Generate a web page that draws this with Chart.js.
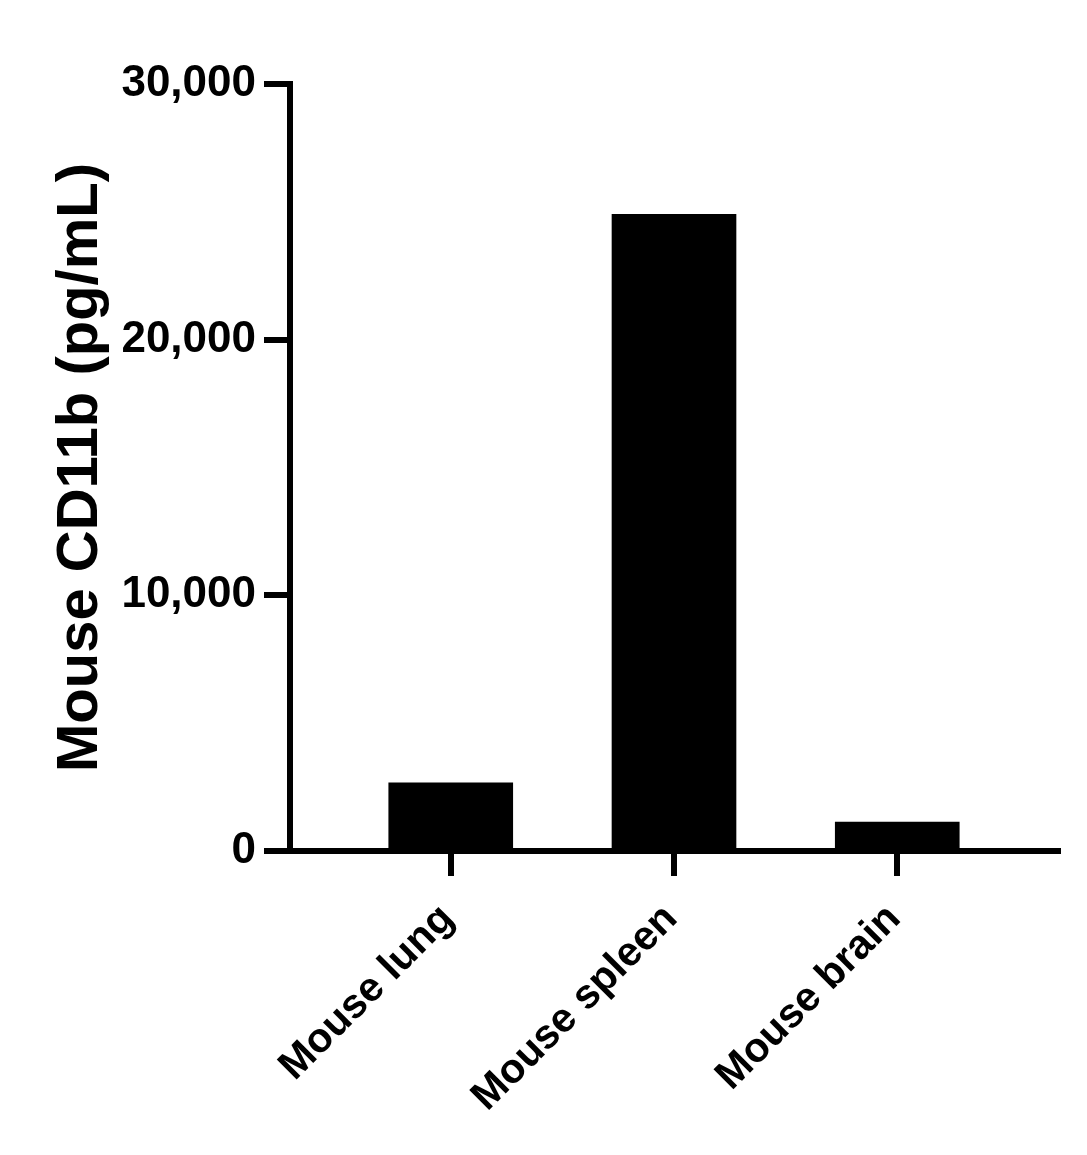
<!DOCTYPE html>
<html>
<head>
<meta charset="utf-8">
<script src="https://cdn.jsdelivr.net/npm/chart.js@4.4.1/dist/chart.umd.min.js"></script>
<style>
  html, body { margin: 0; padding: 0; background: #fff; }
  #wrap { width: 1087px; height: 1155px; position: relative; }
</style>
</head>
<body>
<div id="wrap"><canvas id="c"></canvas></div>
<script>
const categories = ["Mouse lung", "Mouse spleen", "Mouse brain"];
const values = [2670, 24900, 1135];
const yTicks = [0, 10000, 20000, 30000];
const yTitle = "Mouse CD11b (pg/mL)";

const FONT = "'Liberation Sans', Arial, Helvetica, sans-serif";

new Chart(document.getElementById('c'), {
  type: 'bar',
  data: {
    datasets: [{
      data: categories.map((c, i) => ({ x: i, y: values[i] })),
      backgroundColor: '#000',
      borderWidth: 0,
      barThickness: 124
    }]
  },
  options: {
    responsive: true,
    maintainAspectRatio: false,
    animation: false,
    devicePixelRatio: 1,
    layout: { padding: { top: 84, right: 29, bottom: 0, left: 0 } },
    plugins: { legend: { display: false }, tooltip: { enabled: false } },
    scales: {
      x: {
        type: 'linear',
        min: -0.72,
        max: 2.72,
        offset: false,
        afterBuildTicks: (s) => { s.ticks = categories.map((c, i) => ({ value: i })); },
        afterFit: (s) => { s.height = 304; },
        border: { display: true, color: '#000', width: 6 },
        grid: { offset: false, drawOnChartArea: false, drawTicks: true, tickLength: 25, tickWidth: 6, tickColor: '#000', color: '#000', lineWidth: 6 },
        ticks: {
          autoSkip: false,
          maxRotation: 45,
          minRotation: 45,
          padding: 19,
          labelOffset: -3,
          color: '#000',
          font: { family: FONT, size: 41, weight: 'bold' },
          callback: (v) => categories[v] !== undefined ? categories[v] : ''
        }
      },
      y: {
        min: 0,
        max: 30000,
        afterBuildTicks: (s) => { s.ticks = yTicks.map(v => ({ value: v })); },
        afterFit: (s) => { s.width = 290; },
        border: { display: true, color: '#000', width: 6 },
        grid: { drawOnChartArea: false, drawTicks: true, tickLength: 26, tickWidth: 6, tickColor: '#000', color: '#000', lineWidth: 6 },
        ticks: {
          padding: 8,
          color: '#000',
          font: { family: FONT, size: 44, weight: 'bold' },
          callback: (v) => v.toLocaleString('en-US')
        },
        title: {
          display: true,
          text: yTitle,
          color: '#000',
          padding: { top: 46, bottom: 0 },
          font: { family: FONT, size: 58, weight: 'bold' }
        }
      }
    }
  }
});
</script>
</body>
</html>
